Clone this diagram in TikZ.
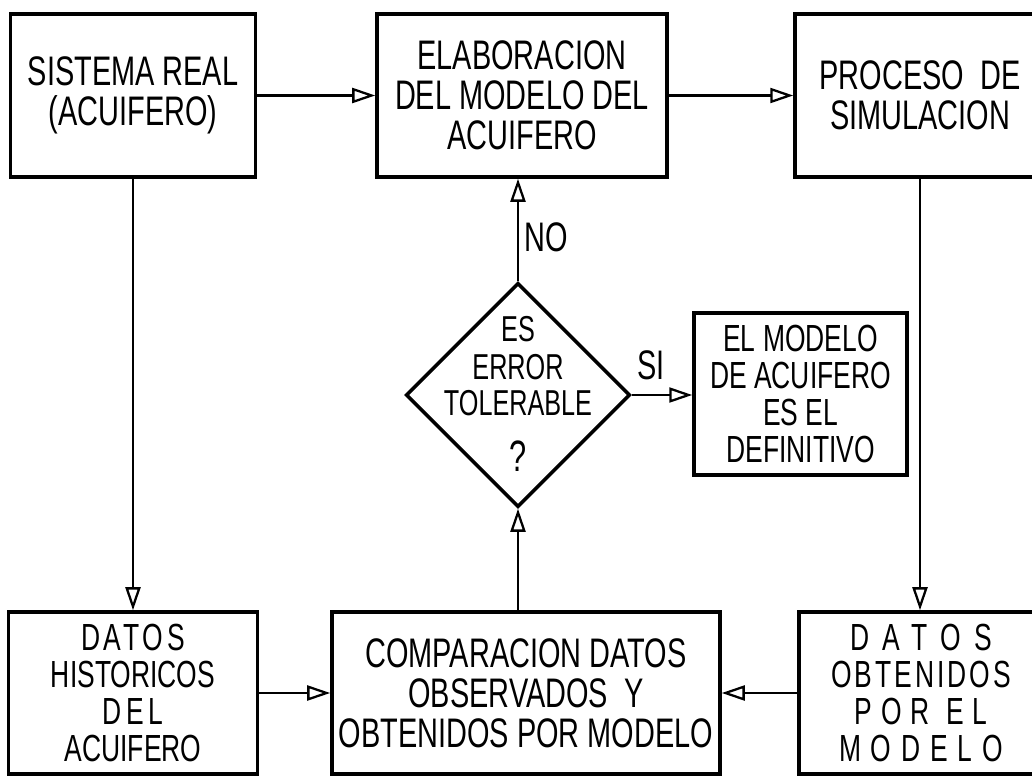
\documentclass[tikz,border=0pt]{standalone}
\usepackage{fontspec}
\setmainfont[FakeStretch=0.7]{Liberation Sans}
\usetikzlibrary{shapes.geometric,arrows.meta}

\newcommand{\spread}[2]{{\addfontfeature{LetterSpace=#1}#2}}

\begin{document}
\begin{tikzpicture}[
  box/.style={draw, line width=2pt, align=center, inner sep=0pt,
    font={\fontsize{23.5}{22.8}\selectfont}},
  tightbox/.style={box, font={\fontsize{21.5}{21}\selectfont}},
  flow/.style={line width=1.6pt,
    -{Triangle[open, length=0.46cm, width=0.3cm, line width=1.3pt]}},
  lbl/.style={font={\fontsize{23.5}{22.8}\selectfont}, inner sep=0pt}
]

\useasboundingbox (0,0) rectangle (20.64,15.52);

\node [box, minimum width=4.9cm, minimum height=3.26cm] (sreal)
  at (2.66,13.61) {SISTEMA REAL\\(ACUIFERO)};

\node [box, minimum width=5.8cm, minimum height=3.26cm] (elab)
  at (10.44,13.61) {ELABORACION\\DEL MODELO DEL\\ACUIFERO};

\node [box, minimum width=5.0cm, minimum height=3.26cm] (proc)
  at (18.4,13.61) {PROCESO\ \ DE\\SIMULACION};

\node [draw, shape=diamond, line width=2pt, inner sep=0pt,
  minimum width=4.48cm, minimum height=4.48cm] (dia) at (10.36,7.62) {};

\node [lbl, align=center, font={\fontsize{20.5}{20.5}\selectfont}] (diatext)
  at (10.36,7.64) {ES\\[1pt]ERROR\\TOLERABLE\\[11pt]{\fontsize{25}{25}\selectfont ?}};

\node [tightbox, minimum width=4.26cm, minimum height=3.24cm] (defin)
  at (16.01,7.64) {EL MODELO\\DE ACUIFERO\\ES EL\\DEFINITIVO};

\node [tightbox, minimum width=4.98cm, minimum height=3.24cm] (hist)
  at (2.66,1.66) {\spread{10}{DATOS}\\HISTORICOS\\\spread{12}{DEL}\\ACUIFERO};

\node [box, minimum width=7.76cm, minimum height=3.24cm] (comp)
  at (10.52,1.66) {COMPARACION DATOS\\OBSERVADOS\ \ Y\\OBTENIDOS POR MODELO};

\node [tightbox, minimum width=4.88cm, minimum height=3.24cm] (data)
  at (18.42,1.66) {\spread{35}{DATOS}\\\spread{8}{OBTENIDOS}\\\spread{24}{POR EL}\\\spread{26}{MODELO}};

\node [lbl] (nolbl) at (10.92,10.78) {NO};
\node [lbl] (silbl) at (13.02,8.22) {SI};

% connectors
\draw [flow] (sreal.east) -- (elab.west);
\draw [flow] (elab.east) -- (proc.west);
\draw [flow] (sreal.south) -- (sreal.south |- hist.north);
\draw [flow] (proc.south) -- (proc.south |- data.north);
\draw [flow] (hist.east) -- (comp.west);
\draw [flow] (data.west) -- (comp.east);
\draw [flow] (dia.south |- comp.north) -- (dia.south);
\draw [flow] (dia.north) -- (dia.north |- elab.south);
\draw [flow] (dia.east) -- (dia.east -| defin.west);

\end{tikzpicture}
\end{document}
